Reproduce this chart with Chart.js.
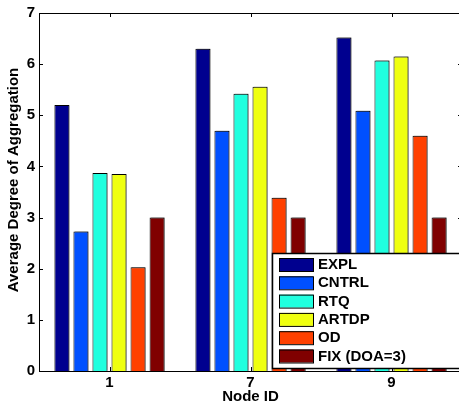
<!DOCTYPE html>
<html>
<head>
<meta charset="utf-8">
<script src="https://cdn.jsdelivr.net/npm/chart.js@4"></script>
<style>
  html, body { margin: 0; padding: 0; background: #fff; overflow: hidden; }
  #wrap { width: 463px; height: 407px; }
</style>
</head>
<body>
<div id="wrap"><canvas id="graficobarra" width="463" height="407"></canvas></div>
<script>
const nodes = ['1', '7', '9'];
const series = ['EXPL', 'CNTRL', 'RTQ', 'ARTDP', 'OD', 'FIX (DOA=3)'];
const expl = [5.2, 6.3, 6.52];
const cntrl = [2.73, 4.7, 5.09];
const rtq = [3.87, 5.42, 6.07];
const artdp = [3.85, 5.56, 6.15];
const od = [2.03, 3.39, 4.6];
const fix = [3.0, 3.0, 3.0];
const yTicks = [0, 1, 2, 3, 4, 5, 6, 7];

const colors = ['#00008f', '#0050ff', '#20ffdf', '#efff10', '#ff4000', '#800000'];
const values = [expl, cntrl, rtq, artdp, od, fix];
const fontFam = '"Liberation Sans", Arial, Helvetica, sans-serif';
const yTitle = 'Average Degree of Aggregation';

// frame with inward ticks, like matlab
const frame = {
  id: 'frame',
  beforeDatasetsDraw(chart) {
    const c = chart.ctx;
    c.save();
    c.shadowColor = 'rgba(0,0,0,0.35)';
    c.shadowOffsetX = 1.5;
    c.shadowOffsetY = -0.5;
    c.shadowBlur = 0.5;
  },
  afterDatasetsDraw(chart) {
    const c = chart.ctx, a = chart.chartArea;
    c.restore();
    const x = chart.scales.x, y = chart.scales.y;
    c.save();
    c.strokeStyle = '#000';
    c.lineWidth = 1;
    c.strokeRect(a.left + 0.5, a.top + 0.5, a.right - a.left - 1, a.bottom - a.top);
    c.beginPath();
    yTicks.forEach(v => {
      const py = Math.round(y.getPixelForValue(v)) + 0.5;
      c.moveTo(a.left, py); c.lineTo(a.left + 4, py);
      c.moveTo(a.right, py); c.lineTo(a.right - 4, py);
    });
    nodes.forEach((n, i) => {
      const px = Math.round(x.getPixelForValue(i)) + 0.5;
      c.moveTo(px, a.top); c.lineTo(px, a.top + 4);
      c.moveTo(px, a.bottom); c.lineTo(px, a.bottom - 4);
    });
    c.stroke();
    // y axis title (sits a little above centre, as in the original)
    c.font = 'bold 15px ' + fontFam;
    c.fillStyle = '#000';
    c.textAlign = 'center';
    c.textBaseline = 'middle';
    c.translate(14, 180);
    c.rotate(-Math.PI / 2);
    c.fillText(yTitle, 0, 0);
    c.restore();
  },
  afterDraw(chart) {
    // legend box inside the plot, bottom right
    const c = chart.ctx;
    const bx = 272, by = 253, bw = 200, bh = 115;
    c.save();
    c.fillStyle = '#fff';
    c.fillRect(bx, by, bw, bh);
    c.strokeStyle = '#000';
    c.lineWidth = 1.5;
    c.strokeRect(bx + 0.5, by + 0.5, bw, bh);
    c.font = 'bold 15px ' + fontFam;
    c.textBaseline = 'middle';
    chart.data.datasets.forEach((ds, i) => {
      const ry = 258 + i * 18.3;
      c.fillStyle = ds.backgroundColor;
      c.fillRect(279, ry, 34, 13);
      c.strokeStyle = '#000';
      c.lineWidth = 1;
      c.strokeRect(279.5, ry + 0.5, 34, 13);
      c.fillStyle = '#000';
      c.fillText(ds.label, 318, ry + 7);
    });
    c.restore();
  }
};

const data2 = {
  labels: nodes,
  datasets: series.map((s, i) => ({
    label: s,
    data: values[i],
    backgroundColor: colors[i],
    borderColor: '#000',
    borderWidth: 1,
    categoryPercentage: 0.81,
    barPercentage: 0.79
  }))
};

const config2 = {
  type: 'bar',
  data: data2,
  options: {
    responsive: false,
    animation: false,
    layout: { padding: { top: 11, right: 1, left: 0, bottom: 0 } },
    plugins: {
      legend: { display: false },
      tooltip: { enabled: false }
    },
    scales: {
      x: {
        grid: { display: false, drawTicks: false },
        border: { display: false },
        ticks: {
          color: '#000',
          padding: 3,
          font: { size: 15, family: fontFam, weight: 'bold' }
        },
        title: {
          display: true,
          text: 'Node ID',
          color: '#000',
          padding: { top: 0, bottom: 1 },
          font: { size: 15, family: fontFam, weight: 'bold' }
        },
        afterFit(scale) { scale.height = 36; }
      },
      y: {
        min: 0,
        max: 7,
        grid: { display: false, drawTicks: false },
        border: { display: false },
        ticks: {
          stepSize: 1,
          color: '#000',
          padding: 4,
          font: { size: 15, family: fontFam, weight: 'bold' }
        },
        afterFit(scale) { scale.width = 39; }
      }
    }
  },
  plugins: [frame]
};

const myChart2 = new Chart(document.getElementById('graficobarra'), config2);
</script>
</body>
</html>
